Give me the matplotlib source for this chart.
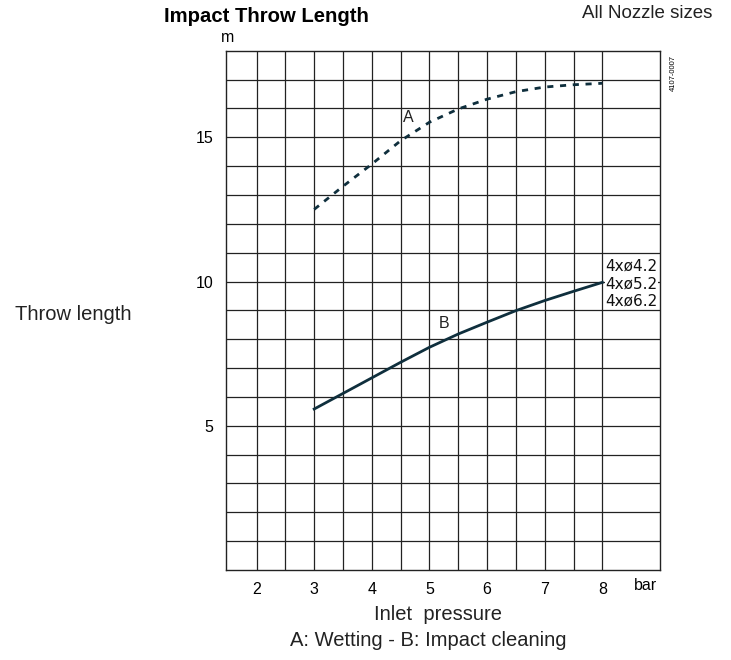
import numpy as np
import matplotlib
matplotlib.use("Agg")
import matplotlib.pyplot as plt

plt.rcParams['font.family'] = ['Liberation Sans', 'DejaVu Sans']

# data
pressure = [3, 3.5, 4, 4.5, 5, 5.5, 6, 6.5, 7, 7.5, 8]
throw_a = [12.5, 13.3, 14.07, 14.88, 15.52, 15.98, 16.32, 16.58, 16.74, 16.82, 16.87]  # A: Wetting
throw_b = [5.58, 6.12, 6.66, 7.2, 7.72, 8.18, 8.59, 8.99, 9.34, 9.66, 9.97]  # B: Impact cleaning
x_ticks = [2, 3, 4, 5, 6, 7, 8]
y_ticks = [5, 10, 15]
nozzles = ['4xø4.2', '4xø5.2', '4xø6.2']

line_col = '#0f2f3d'
grid_col = '#222222'

fig = plt.figure(figsize=(7.31, 6.60), dpi=100)
ax = fig.add_axes([226 / 731, 1 - 570 / 660, (660 - 226) / 731, (570 - 50.7) / 660])

ax.plot(pressure, throw_a, color=line_col, lw=2.0, linestyle=(0, (2.2, 2.4)),
        dash_capstyle='butt', zorder=3)
ax.plot(pressure, throw_b, color=line_col, lw=2.0, zorder=3)

ax.set_xlim(1.47, 9.0)
ax.set_ylim(0, 18)
ax.set_xticks(x_ticks)
ax.set_xticks(np.arange(2.5, 8, 1.0), minor=True)
ax.set_yticks(y_ticks)
ax.set_yticks(np.arange(1, 18, 1), minor=True)
ax.grid(True, which='both', color=grid_col, lw=0.9)
ax.set_axisbelow(True)
ax.tick_params(which='both', length=0, labelsize=11.5, pad=9)
for s in ax.spines.values():
    s.set_color(grid_col)
    s.set_linewidth(1.0)

# curve labels
ax.text(4.64, 15.7, 'A', fontsize=11.5, ha='center', va='center', color='#222222')
ax.text(5.25, 8.54, 'B', fontsize=11.5, ha='center', va='center', color='#222222')
ax.text(8.96, 9.93, '\n'.join(nozzles), fontsize=11, family='DejaVu Sans',
        ha='right', va='center', linespacing=1.2, color='#111111',
        bbox=dict(facecolor='white', edgecolor='none', pad=0.3), zorder=4)

# surrounding texts
fig.text(369 / 731, 1 - 16 / 660, 'Impact Throw Length', fontsize=14.6, fontweight='bold',
         ha='right', va='center')
fig.text(712 / 731, 1 - 14 / 660, 'All Nozzle sizes', fontsize=13.5, ha='right', va='center',
         color='#222222')
fig.text(228 / 731, 1 - 38 / 660, 'm', fontsize=11.5, ha='center', va='center')
fig.text(673 / 731, 1 - 73 / 660, '4107-0007', fontsize=5.5, rotation=90,
         ha='center', va='center')
fig.text(73.5 / 731, 1 - 315 / 660, 'Throw length', fontsize=14.5, ha='center', va='center',
         color='#222222')
fig.text(645 / 731, 1 - 585.5 / 660, 'bar', fontsize=11.5, ha='center', va='center')
fig.text(437.5 / 731, 1 - 615 / 660, 'Inlet  pressure', fontsize=14.5, ha='center',
         va='center', color='#222222')
fig.text(428 / 731, 1 - 641 / 660, 'A: Wetting - B: Impact cleaning', fontsize=14.5,
         ha='center', va='center', color='#222222')

fig.savefig('out.png', dpi=100)
